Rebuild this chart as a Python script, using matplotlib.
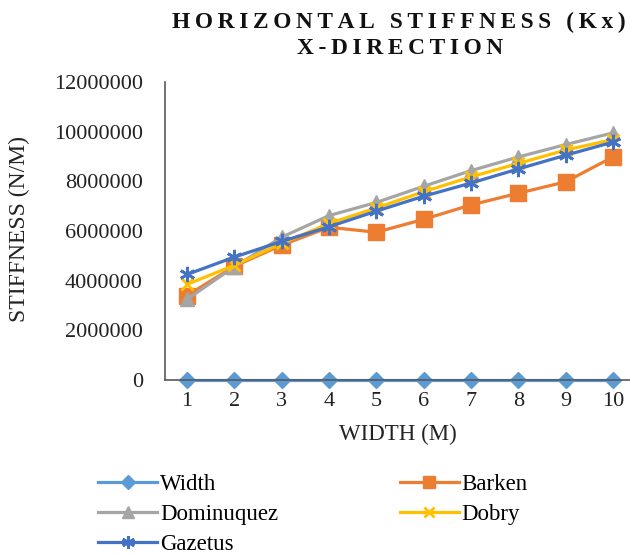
import matplotlib
matplotlib.use("Agg")
import matplotlib.pyplot as plt

widths = [1, 2, 3, 4, 5, 6, 7, 8, 9, 10]
width_series = [0, 0, 0, 0, 0, 0, 0, 0, 0, 0]
barken = [3.40e6, 4.58e6, 5.43e6, 6.15e6, 5.95e6, 6.47e6, 7.05e6, 7.52e6, 7.98e6, 8.98e6]
dominuquez = [3.25e6, 4.56e6, 5.75e6, 6.62e6, 7.15e6, 7.80e6, 8.43e6, 8.98e6, 9.48e6, 9.95e6]
dobry = [3.85e6, 4.62e6, 5.50e6, 6.30e6, 6.93e6, 7.58e6, 8.18e6, 8.72e6, 9.26e6, 9.68e6]
gazetus = [4.25e6, 4.95e6, 5.58e6, 6.17e6, 6.80e6, 7.40e6, 7.93e6, 8.50e6, 9.05e6, 9.58e6]
y_ticks = [0, 2000000, 4000000, 6000000, 8000000, 10000000, 12000000]

plt.rcParams['font.family'] = ['Liberation Serif', 'DejaVu Serif']


def spaced(s):
    # widen the title by putting a thin space between letters
    return '\u2009'.join(s)


fig = plt.figure(figsize=(6.3, 5.55), dpi=100)
ax = fig.add_axes([165/630, 1 - 380/555, 465/630, 298/555])

series = [
    ('Width', width_series, '#5B9BD5', 'D', 8),
    ('Barken', barken, '#ED7D31', 's', 11),
    ('Dominuquez', dominuquez, '#A5A5A5', '^', 10),
    ('Dobry', dobry, '#FFC000', 'x', 9),
    ('Gazetus', gazetus, '#4472C4', '*', 0),
]
lines = {}
for name, vals, color, marker, ms in series:
    if marker == '*':
        # asterisk-like marker built from a 6-spoke star
        ln, = ax.plot(widths, vals, color=color, lw=2.3, marker=(6, 2, 0), ms=11,
                      mew=2, label=name, clip_on=False, zorder=5)
    elif marker == 'x':
        ln, = ax.plot(widths, vals, color=color, lw=2.3, marker='x', ms=ms,
                      mew=2, label=name, clip_on=False)
    else:
        ln, = ax.plot(widths, vals, color=color, lw=2.3, marker=marker, ms=ms,
                      label=name, clip_on=False)
    lines[name] = ln

ax.set_xlim(0.535, 10.36)
ax.set_ylim(0, 12000000)
ax.set_yticks(y_ticks)
ax.set_yticklabels([str(v) for v in y_ticks])
ax.set_xticks(widths)
ax.tick_params(axis='y', length=0, pad=16, labelsize=16, colors='#222222')
ax.tick_params(axis='x', length=0, pad=9, labelsize=16, colors='#222222')
for s in ['top', 'right']:
    ax.spines[s].set_visible(False)
for s in ['left', 'bottom']:
    ax.spines[s].set_color('#595959')
    ax.spines[s].set_linewidth(1.2)

ax.set_xlabel('WIDTH (M)', fontsize=16.5, color='#222222', labelpad=9)
fig.text(19/630, 1 - 229/555, 'STIFFNESS (N/M)', rotation=90, fontsize=17,
         color='#222222', ha='center', va='center')

fig.text(399/630, 1 - 22/555, spaced('HORIZONTAL STIFFNESS (Kx)'), fontsize=16.8,
         fontweight='bold', ha='center', va='center', color='#111111')
fig.text(400/630, 1 - 49/555, spaced('X-DIRECTION'), fontsize=16.8,
         fontweight='bold', ha='center', va='center', color='#111111')

# legend filled row by row: Width/Barken, Dominuquez/Dobry, Gazetus
order = ['Width', 'Dominuquez', 'Gazetus', 'Barken', 'Dobry']
fig.legend([lines[n] for n in order], order, loc='upper left',
           bbox_to_anchor=(98/630, 1 - 474/555), ncol=2, frameon=False,
           fontsize=16.5, handlelength=2.58, columnspacing=5.3,
           handletextpad=0.13, labelspacing=0.4, borderpad=0,
           borderaxespad=0, markerscale=0.85)

fig.savefig('out.png', dpi=100)
